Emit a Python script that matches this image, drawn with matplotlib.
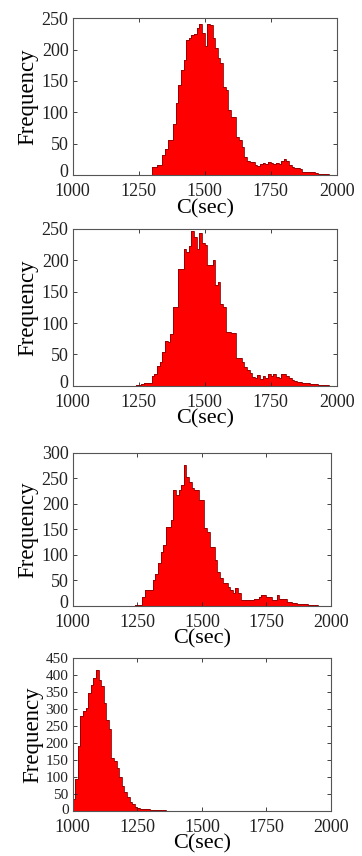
import numpy as np
import matplotlib
matplotlib.use("Agg")
import matplotlib.pyplot as plt
import matplotlib.transforms as mtransforms

# Histogram counts, bins of 10 s
bin_width = 10

start1 = 1300
counts1 = [13, 13, 16, 16, 32, 42, 56, 56, 82, 114,
           144, 168, 183, 215, 218, 223, 225, 234, 241, 226,
           205, 241, 240, 218, 202, 186, 178, 141, 136, 104,
           93, 93, 61, 56, 45, 29, 23, 21, 21, 16,
           14, 18, 19, 18, 20, 19, 18, 19, 17, 22,
           25, 22, 16, 13, 11, 11, 9, 5, 5, 5,
           4, 4, 3, 2, 2, 2, 1]

start2 = 1240
counts2 = [1, 1, 2, 4, 4, 5, 15, 18, 32, 38,
           54, 72, 70, 82, 126, 126, 186, 186, 218, 213,
           223, 247, 237, 218, 243, 227, 225, 193, 193, 200,
           160, 165, 131, 125, 86, 86, 84, 84, 44, 44,
           38, 30, 25, 20, 14, 12, 17, 11, 15, 12,
           18, 16, 19, 14, 12, 19, 18, 15, 12, 9,
           8, 6, 6, 5, 4, 4, 3, 2, 2, 1,
           1, 1, 1]

start3 = 1240
counts3 = [1, 1, 2, 18, 31, 31, 31, 50, 63, 83,
           106, 119, 155, 155, 168, 227, 217, 227, 237, 276,
           253, 243, 230, 227, 227, 207, 207, 152, 145, 116,
           116, 90, 67, 54, 44, 44, 37, 31, 24, 34,
           24, 11, 11, 11, 12, 11, 14, 14, 18, 21,
           21, 18, 18, 11, 11, 21, 14, 14, 14, 8,
           8, 5, 5, 4, 3, 3, 3, 2, 2, 1,
           1]

start4 = 1000
counts4 = [34, 93, 191, 279, 293, 303, 347, 372, 391, 416,
           386, 367, 318, 269, 240, 156, 147, 127, 98, 73,
           54, 39, 26, 20, 12, 7, 5, 5, 4, 4,
           2, 2, 2, 2, 1, 1]

# (start, counts, ymax, y tick label size, nudge of "0" in points)
panels = [(start1, counts1, 250, 13, 3), (start2, counts2, 250, 13, 3),
          (start3, counts3, 300, 13, 3), (start4, counts4, 450, 11, 1.5)]

# axes boxes in figure fractions [left, bottom, width, height]
boxes = [[0.2008, 0.7956, 0.729, 0.1831],
         [0.2008, 0.5494, 0.729, 0.1831],
         [0.2008, 0.2924, 0.7136, 0.1787],
         [0.2008, 0.0530, 0.7136, 0.1780]]

plt.rcParams['font.family'] = ['Liberation Serif', 'DejaVu Serif']

fig = plt.figure(figsize=(3.62, 8.56), dpi=100)

for (start, counts, ymax, ysize, up), box in zip(panels, boxes):
    ax = fig.add_axes(box)
    edges = start + bin_width * np.arange(len(counts) + 1)
    ax.bar(edges[:-1], counts, width=bin_width, align='edge',
           color='#ff0000', linewidth=0)
    # dark outline of the histogram
    ax.stairs(counts, edges, color='#8a0000', linewidth=0.6)
    ax.set_xlim(1000, 2000)
    ax.set_ylim(0, ymax)
    ax.set_xticks([1000, 1250, 1500, 1750, 2000])
    ax.set_yticks(np.arange(0, ymax + 1, 50))
    ax.tick_params(direction='in', length=3, width=0.6,
                   top=True, right=True, colors='#222222')
    ax.tick_params(axis='x', pad=6, labelsize=13)
    ax.tick_params(axis='y', pad=3, labelsize=ysize)
    for s in ax.spines.values():
        s.set_linewidth(0.8)
        s.set_color('#555555')
    ax.set_xlabel('C(sec)', fontsize=16, labelpad=-1)
    ax.set_ylabel('Frequency', fontsize=16.5, labelpad=2)
    # lift the "0" a little so it clears the "1000" below it
    nudge = mtransforms.ScaledTranslation(0, up / 72, fig.dpi_scale_trans)
    lab0 = ax.yaxis.get_major_ticks()[0].label1
    lab0.set_transform(lab0.get_transform() + nudge)

fig.savefig('out.png', dpi=100)
